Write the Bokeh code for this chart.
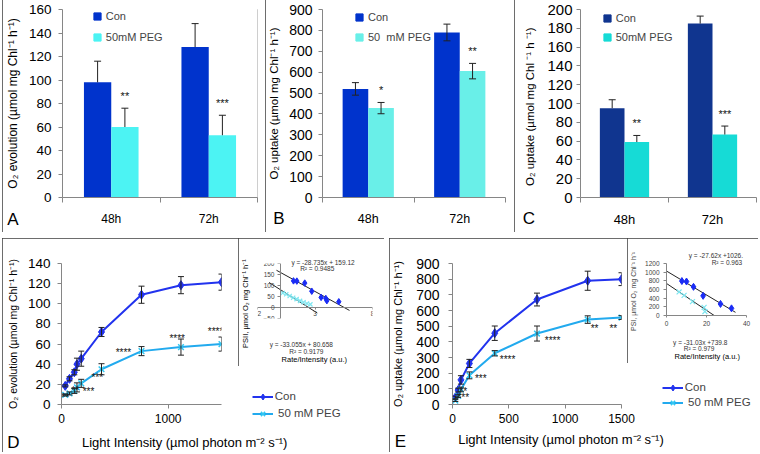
import numpy as np
from math import pi
from bokeh.plotting import figure
from bokeh.models import (ColumnDataSource, Whisker, TeeHead, FixedTicker, LinearAxis,
                          Legend, LegendItem, Range1d)
from bokeh.layouts import row, column
from bokeh.embed import file_html
from bokeh.resources import INLINE
from bokeh.core.properties import value

FONT = "Liberation Sans"
AXC = "#868686"
ERRC = "#222222"

# ---------------- data ----------------
times = ["48h", "72h"]

a_con = [98, 128]
a_con_err = [18, 20]
a_peg = [60, 53]
a_peg_err = [16, 17]
a_sig = ["**", "***"]
a_labels = ["Con", "50mM PEG"]

b_con = [520, 790]
b_con_err = [30, 40]
b_peg = [428, 605]
b_peg_err = [27, 37]
b_sig = ["*", "**"]
b_labels = ["Con", "50  mM PEG"]

c_con = [95, 185]
c_con_err = [9, 8]
c_peg = [59, 67]
c_peg_err = [7, 9]
c_sig = ["**", "***"]
c_labels = ["Con", "50mM PEG"]

d_light = [35, 75, 120, 145, 185, 375, 750, 1120, 1500]
d_con = [18.5, 25.5, 32, 40, 45.5, 72, 109, 118.5, 121.5]
d_con_err = [1, 2, 2.5, 6, 7.5, 4.5, 8.5, 8.5, 8]
d_peg = [9.5, 11, 13.5, 17, 21, 35, 53, 57, 60]
d_peg_err = [1, 1.5, 2.5, 4.5, 4, 5.5, 4.5, 8, 7]
d_star_x = [37, 130, 253, 335, 581, 1085, 1444]
d_star_y = [7, 14, 13, 27, 52, 66, 72]
d_star = ["**", "**", "***", "***", "****", "****", "****"]
d_xticks = [0, 1000]

e_light = [25, 50, 75, 150, 375, 750, 1200, 1500]
e_con = [45, 92, 157, 262, 455, 670, 790, 800]
e_con_err = [8, 12, 27, 26, 46, 41, 61, 41]
e_peg = [25, 55, 96, 186, 327, 453, 542, 555]
e_peg_err = [6, 10, 15, 22, 17, 48, 24, 12]
e_star_x = [96, 96, 251, 489, 888, 1261, 1427]
e_star_y = [82, 43, 164, 290, 409, 483, 483]
e_star = ["**", "***", "***", "****", "****", "**", "**"]
e_xticks = [0, 500, 1000, 1500]

line_labels = ["Con", " 50 mM PEG"]

# inset of D (PSII)
ind_con_x = [1.13, 1.42, 2.11, 2.72, 3.53, 3.94, 4.03, 5.07]
ind_con_y = [121, 120, 111, 74, 46, 41, 31, 26]
ind_peg_x = [0.2, 0.5, 0.8, 1.1, 1.4, 1.7, 2.0, 2.3, 2.6]
ind_peg_y = [66, 60, 52, 44, 38, 30, 24, 18, 14]
ind_slope = [-28.735, -33.055]
ind_icpt = [159.12, 80.658]
ind_fit_x0 = [-0.35, -1.0]
ind_fit_x1 = [6.0, 3.2]
ind_xticks = [-2, 3, 8]
ind_yticks = [-50, 0, 50, 100, 150, 200]
ind_eq = ["y = -28.735x + 159.12", "R\u00b2 = 0.9485", "y = -33.055x + 80.658", "R\u00b2 = 0.9179"]

# inset of E (PSI)
ine_con_x = [7.7, 10, 13.5, 18.3, 27, 32.5]
ine_con_y = [795, 784, 661, 453, 267, 165]
ine_peg_x = [6.3, 8.8, 13.0, 18.8, 19.2]
ine_peg_y = [544, 464, 320, 187, 91]
ine_slope = [-27.62, -31.03]
ine_icpt = [1026, 739.8]
ine_fit_x0 = [0, 0]
ine_fit_x1 = [34.5, 23.8]
ine_xticks = [0, 20, 40]
ine_yticks = [0, 200, 400, 600, 800, 1000, 1200]
ine_eq = ["y = -27.62x +1026.", "R\u00b2 = 0.963", "y = -31.03x +739.8", "R\u00b2 = 0.979"]

PAGE_W, PAGE_H = 760, 452


# ---------------- geometry helpers (page pixel coordinates) ----------------
class Geo:
    def __init__(self, box, frame):
        self.rl, self.rt, self.rr, self.rb = box
        self.w = self.rr - self.rl
        self.h = self.rb - self.rt
        fl, ft, fr, fb = frame
        self.mb = (round(fl - self.rl), round(ft - self.rt),
                   self.w - round(fr - self.rl), self.h - round(fb - self.rt))


def base_fig(g, xr, yr, inset=False, **kw):
    l, t, r, b = g.mb
    p = figure(width=g.w, height=g.h, x_range=xr, y_range=yr, output_backend="svg",
               toolbar_location=None, tools="", min_border_left=l, min_border_top=t,
               min_border_right=r, min_border_bottom=b, outline_line_color=None,
               background_fill_color="white", border_fill_color="white", **kw)
    p.xgrid.visible = False
    p.ygrid.visible = False
    st = {"outline": "1px solid #3c3c3c", "outline-offset": "-1px"}
    if inset:
        st.update({"position": "relative", "z-index": "2"})
    p.styles = st
    return p


def style_axis(ax, fs, tick_out=4, standoff=6, color="#000000"):
    ax.axis_line_color = AXC
    ax.major_tick_line_color = AXC
    ax.minor_tick_line_color = None
    ax.major_tick_out = tick_out
    ax.major_tick_in = 0
    ax.major_label_text_font = FONT
    ax.major_label_text_font_size = f"{fs}px"
    ax.major_label_text_color = color
    ax.major_label_standoff = standoff
    ax.axis_label_text_font = FONT
    ax.axis_label_text_font_style = "normal"
    ax.axis_label_text_color = color


# ---------------- bar panels ----------------
def bar_panel(g, ymax, ystep, con, con_err, peg, peg_err, sig, colors, ylabel,
              ytick_fs, ytick_so, ylab_fs, ylab_so, xtick_fs, two_sided):
    p = base_fig(g, Range1d(0, len(times)), Range1d(0, ymax))
    xc = np.arange(len(times)) + 0.5
    bw = 0.28
    con = np.asarray(con, float)
    peg = np.asarray(peg, float)
    con_err = np.asarray(con_err, float)
    peg_err = np.asarray(peg_err, float)
    src = ColumnDataSource(dict(
        xc=xc - bw / 2, xp=xc + bw / 2, con=con, peg=peg,
        con_up=con + con_err, peg_up=peg + peg_err,
        con_lo=(con - con_err) if two_sided else con,
        peg_lo=(peg - peg_err) if two_sided else peg, sig=sig))
    p.vbar(x="xc", top="con", width=bw, source=src, fill_color=colors[0], line_color=None)
    p.vbar(x="xp", top="peg", width=bw, source=src, fill_color=colors[1], line_color=None)
    for base, up, lo in (("xc", "con_up", "con_lo"), ("xp", "peg_up", "peg_lo")):
        p.add_layout(Whisker(
            source=src, base=base, upper=up, lower=lo, level="overlay",
            line_color=ERRC, line_width=1,
            upper_head=TeeHead(size=7, line_color=ERRC, line_width=1),
            lower_head=TeeHead(size=7, line_color=ERRC, line_width=1) if two_sided else None))
    p.text(x="xp", y="peg_up", text="sig", source=src, text_font=value(FONT),
           text_font_size="11px", text_align="center", text_baseline="middle",
           y_offset=-12, text_color="#111111")

    xa = p.xaxis[0]
    xa.ticker = FixedTicker(ticks=[float(v) for v in xc],
                            minor_ticks=[float(v) for v in range(len(times) + 1)])
    ov_map = {}
    for v, t in zip(xc, times):
        ov_map[float(v)] = t
        ov_map[str(float(v))] = t
    xa.major_label_overrides = ov_map
    style_axis(xa, xtick_fs, tick_out=0, standoff=9)
    xa.minor_tick_line_color = AXC
    xa.minor_tick_out = 5
    xa.minor_tick_in = 0

    ya = p.yaxis[0]
    ya.ticker = FixedTicker(ticks=list(range(0, ymax + 1, ystep)))
    style_axis(ya, ytick_fs, tick_out=4, standoff=ytick_so)
    ya.axis_label = ylabel
    ya.axis_label_text_font_size = f"{ylab_fs}px"
    ya.axis_label_standoff = ylab_so
    return p


A_COL = ["#0033cc", "#4cf3f3"]
B_COL = ["#0033cc", "#69efe8"]
C_COL = ["#10358f", "#16dbd6"]

gA = Geo((2, -1, 258, 232), (60, 9, 257, 197))
pA = bar_panel(gA, 160, 20, a_con, a_con_err, a_peg, a_peg_err, a_sig, A_COL,
               "O\u2082 evolution (\u00b5mol mg Chl\u207b\u00b9 h\u207b\u00b9)",
               13.5, 7, 12, 6, 12, False)

gB = Geo((265, -1, 508, 232), (322, 7, 505, 197))
pB = bar_panel(gB, 900, 100, b_con, b_con_err, b_peg, b_peg_err, b_sig, B_COL,
               "O\u2082 uptake (\u00b5mol mg Chl\u207b\u00b9 h\u207b\u00b9)",
               14, 6, 11.5, 6, 12.5, True)

gC = Geo((514, -1, 758, 232), (580, 7, 756, 197))
pC = bar_panel(gC, 200, 20, c_con, c_con_err, c_peg, c_peg_err, c_sig, C_COL,
               "O\u2082 uptake (\u00b5mol  mg Chl \u207b\u00b9  h \u207b\u00b9)",
               15, 4, 11.5, 8, 13, False)

# ---------------- line panels ----------------
L_CON = "#2233ee"
L_PEG = "#22aaee"
L_PEGM = "#33c8f2"


def line_panel(g, xmax, xticks, ymax, ystep, light, con, con_err, peg, peg_err,
               st_x, st_y, st_t, ylabel, ytick_fs, ytick_so, ylab_fs, ylab_so):
    p = base_fig(g, Range1d(0, xmax), Range1d(0, ymax))
    light = np.asarray(light, float)
    con = np.asarray(con, float)
    peg = np.asarray(peg, float)
    con_err = np.asarray(con_err, float)
    peg_err = np.asarray(peg_err, float)
    sc = ColumnDataSource(dict(x=light, y=con, up=con + con_err, lo=con - con_err))
    sp = ColumnDataSource(dict(x=light, y=peg, up=peg + peg_err, lo=peg - peg_err))
    p.line("x", "y", source=sc, line_color=L_CON, line_width=2)
    p.scatter("x", "y", source=sc, marker="diamond", size=9, color=L_CON)
    p.line("x", "y", source=sp, line_color=L_PEG, line_width=2)
    p.scatter("x", "y", source=sp, marker="x", size=8, line_color=L_PEGM, line_width=1.5)
    for s in (sc, sp):
        p.add_layout(Whisker(source=s, base="x", upper="up", lower="lo", level="overlay",
                             line_color=ERRC, line_width=1,
                             upper_head=TeeHead(size=6, line_color=ERRC, line_width=1),
                             lower_head=TeeHead(size=6, line_color=ERRC, line_width=1)))
    p.text(x=st_x, y=st_y, text=st_t, text_font=value(FONT), text_font_size="10px",
           text_align="center", text_baseline="middle", text_color="#111111")

    xa = p.xaxis[0]
    xa.ticker = FixedTicker(ticks=xticks)
    style_axis(xa, 12, tick_out=4, standoff=5)
    ya = p.yaxis[0]
    ya.ticker = FixedTicker(ticks=list(range(0, ymax + 1, ystep)))
    style_axis(ya, ytick_fs, tick_out=4, standoff=ytick_so)
    ya.axis_label = ylabel
    ya.axis_label_text_font_size = f"{ylab_fs}px"
    ya.axis_label_standoff = ylab_so
    return p


gD = Geo((2, 238, 384, 452), (61, 262.7, 221, 404))
pD = line_panel(gD, 1500, d_xticks, 140, 20, d_light, d_con, d_con_err, d_peg, d_peg_err,
                d_star_x, d_star_y, d_star,
                "O\u2082 evolution (\u00b5mol mg Chl\u207b\u00b9 h\u207b\u00b9)", 13.5, 7, 10.5, 6)

gE = Geo((389, 238, 758, 452), (449, 257.3, 620.7, 404))
pE = line_panel(gE, 1500, e_xticks, 900, 100, e_light, e_con, e_con_err, e_peg, e_peg_err,
                e_star_x, e_star_y, e_star,
                "O\u2082 uptake (\u00b5mol mg Chl\u207b\u00b9 h\u207b\u00b9)", 14, 9, 11, 9)

# ---------------- insets ----------------
IN_CON = "#1a2cf5"
IN_PEG = "#7de6f0"

gDi = Geo((238, 238, 383, 366), (256.7, 248.3, 371.7, 336))
pDi = base_fig(gDi, Range1d(-2, 8), Range1d(-50, 200), inset=True,
               x_axis_location=None, y_axis_location=None)
yax = LinearAxis(fixed_location=0, ticker=FixedTicker(ticks=ind_yticks))
style_axis(yax, 6.5, tick_out=3, standoff=3, color="#444444")
pDi.add_layout(yax, "left")
xax = LinearAxis(fixed_location=0, ticker=FixedTicker(ticks=ind_xticks))
style_axis(xax, 6.5, tick_out=2, standoff=1, color="#444444")
pDi.add_layout(xax, "below")
for m, c, x0, x1 in zip(ind_slope, ind_icpt, ind_fit_x0, ind_fit_x1):
    pDi.line([x0, x1], [m * x0 + c, m * x1 + c], line_color="#222222", line_width=1)
pDi.scatter(ind_peg_x, ind_peg_y, marker="x", size=6, line_color=IN_PEG, line_width=1.2)
pDi.scatter(ind_con_x, ind_con_y, marker="diamond", size=6.5, color=IN_CON)

gEi = Geo((627, 238, 758, 363), (665.7, 244, 745.7, 319))
pEi = base_fig(gEi, Range1d(0, 40), Range1d(0, 1200), inset=True)
style_axis(pEi.xaxis[0], 6.5, tick_out=2, standoff=3, color="#444444")
pEi.xaxis[0].ticker = FixedTicker(ticks=ine_xticks)
style_axis(pEi.yaxis[0], 6.5, tick_out=3, standoff=4, color="#444444")
pEi.yaxis[0].ticker = FixedTicker(ticks=ine_yticks)
pEi.yaxis[0].axis_label = "PSI, \u00b5mol  O\u2082  mg Chl\u207b\u00b9 h\u207b\u00b9"
pEi.yaxis[0].axis_label_text_font_size = "7px"
pEi.yaxis[0].axis_label_standoff = 5
for m, c, x0, x1 in zip(ine_slope, ine_icpt, ine_fit_x0, ine_fit_x1):
    pEi.line([x0, x1], [m * x0 + c, m * x1 + c], line_color="#222222", line_width=1)
pEi.scatter(ine_peg_x, ine_peg_y, marker="x", size=7, line_color=IN_PEG, line_width=1.2)
pEi.scatter(ine_con_x, ine_con_y, marker="diamond", size=7, color=IN_CON)

# ---------------- transparent overlay for free texts and legends ----------------
ov = figure(width=PAGE_W, height=PAGE_H, x_range=Range1d(0, PAGE_W), y_range=Range1d(PAGE_H, 0),
            output_backend="svg", toolbar_location=None, tools="", min_border=0,
            x_axis_location=None, y_axis_location=None, outline_line_color=None,
            background_fill_alpha=0, border_fill_alpha=0)
ov.xgrid.visible = False
ov.ygrid.visible = False
ov.styles = {"position": "relative", "z-index": "5", "pointer-events": "none"}


def ov_text(xs, ys, texts, fs, align="center", angle=0.0, color="#000000", style="normal"):
    ov.text(x=xs, y=ys, text=texts, text_font=value(FONT), text_font_size=f"{fs}px",
            text_align=align, text_baseline="middle", angle=angle, text_color=color,
            text_font_style=style)


def ov_legend(items, cx, c1, c2, gw, gh, standoff, fs):
    spacing = max(0, round((c2 - c1) - gh))
    top = c1 - gh / 2
    n = len(items)
    height = n * gh + (n - 1) * spacing
    ov.add_layout(Legend(items=[LegendItem(label=lab, renderers=rs) for lab, rs in items],
                         location=(cx - gw / 2, PAGE_H - (top + height)), padding=0, margin=0,
                         spacing=spacing, glyph_width=gw, glyph_height=gh, label_height=gh,
                         label_standoff=standoff, label_text_font=FONT,
                         label_text_font_size=f"{fs}px", border_line_color=None,
                         background_fill_alpha=0))


NAN = np.array([np.nan])


def sq_proxy(c):
    return ov.scatter(x=NAN, y=NAN, marker="square", size=7, fill_color=c, line_color=c)


for labels, cols, pos in ((a_labels, A_COL, (96.8, 16.2, 36.7)),
                          (b_labels, B_COL, (359, 16.7, 36.7)),
                          (c_labels, C_COL, (606.7, 17.8, 36.7))):
    ov_legend([(labels[0], [sq_proxy(cols[0])]), (labels[1], [sq_proxy(cols[1])])],
              pos[0], pos[1], pos[2], 18, 18, -3, 11)

for pos in ((262.3, 396, 412.7), (672.3, 387, 402)):
    lc = ov.line(x=NAN, y=NAN, line_color=L_CON, line_width=2)
    mc = ov.scatter(x=NAN, y=NAN, marker="diamond", size=9, color=L_CON)
    lp = ov.line(x=NAN, y=NAN, line_color=L_PEG, line_width=2)
    mp = ov.scatter(x=NAN, y=NAN, marker="x", size=8, line_color=L_PEGM, line_width=1.5)
    ov_legend([(line_labels[0], [lc, mc]), (line_labels[1], [lp, mp])],
              pos[0], pos[1], pos[2], 21, 15, 2, 11.5)

# panel letters
ov_text([12.5, 278.3, 528.3, 12.8, 400], [218.7, 217.5, 217.5, 441.7, 440.8],
        ["A", "B", "C", "D", "E"], 17)
# x-axis titles of D and E
xlab = "Light  Intensity (\u00b5mol photon m\u207b\u00b2 s\u207b\u00b9)"
ov_text([186, 562.3], [441.7, 439], [xlab, xlab], 13)
# inset annotations
ov_text([322.5, 316.7, 300.8, 305.8], [261.7, 267.7, 344, 350.7], ind_eq, 6.5, color="#333333")
ov_text([742.5, 741.7], [255, 261.7], ine_eq[:2], 6.5, align="right", color="#333333")
ov_text([699.7, 698.5], [341.7, 347.5], ine_eq[2:], 6.5, color="#333333")
ov_text([313.8, 706.7], [359, 356.3], ["Rate/Intensity (a.u.)", "Rate/Intensity (a.u.)"], 7.5)
ov_text([245], [301], ["PSII, \u00b5mol  O\u2082  mg Chl\u207b\u00b9 h\u207b\u00b9"], 7.5, angle=pi / 2)

# ---------------- layout ----------------
pA.margin = (0, 0, 0, gA.rl)
pB.margin = (0, 0, 0, gB.rl - gA.rr)
pC.margin = (0, 0, 0, gC.rl - gB.rr)
pD.margin = (0, 0, 0, gD.rl)
pDi.margin = (0, 0, 0, gDi.rl - gD.rr)
pE.margin = (0, 0, 0, gE.rl - gDi.rr)
pEi.margin = (0, 0, 0, gEi.rl - gE.rr)

top = row(pA, pB, pC)
top.margin = (gA.rt, 0, 0, 0)
bottom = row(pD, pDi, pE, pEi)
bottom.margin = (gD.rt - gA.rb, 0, 0, 0)
ov.margin = (-PAGE_H, 0, 0, 0)
root = column(top, bottom, ov)

open("out.html", "w").write(file_html(root, INLINE, title="chart"))
